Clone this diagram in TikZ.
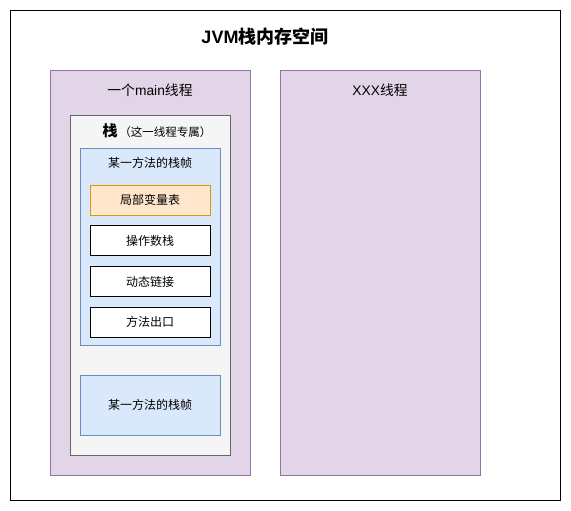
\documentclass[tikz,border=0pt]{standalone}
\usepackage{fontspec}
\setmainfont{Liberation Sans}
\newfontfamily\cjk{Noto Sans CJK SC}
\usepackage{xcolor}
\definecolor{ThreadFill}{HTML}{E1D5E7}
\definecolor{ThreadLine}{HTML}{9673A6}
\definecolor{StackFill}{HTML}{F5F5F5}
\definecolor{StackLine}{HTML}{666666}
\definecolor{FrameFill}{HTML}{DAE8FC}
\definecolor{FrameLine}{HTML}{6C8EBF}
\definecolor{LocalFill}{HTML}{FFE6CC}
\definecolor{LocalLine}{HTML}{D79B00}
\usepackage{tikz}
\usetikzlibrary{positioning}
\tikzset{
  jthread/.style={draw=ThreadLine,fill=ThreadFill,line width=0.8pt,inner sep=0pt,minimum width=200pt,minimum height=405pt},
  jstack/.style={draw=StackLine,fill=StackFill,line width=0.8pt,inner sep=0pt,minimum width=160pt,minimum height=340pt},
  jframe/.style={draw=FrameLine,fill=FrameFill,line width=0.8pt,inner sep=0pt,minimum width=140pt},
  jslot/.style={draw=black,fill=white,line width=0.8pt,inner sep=0pt,minimum width=120pt,minimum height=30pt,font=\fontsize{12pt}{14pt}\selectfont\cjk},
  jlocal/.style={jslot,draw=LocalLine,fill=LocalFill},
  jlabel/.style={inner sep=0pt,font=\fontsize{13.8pt}{16pt}\selectfont}
}

\begin{document}
\begin{tikzpicture}[x=1pt,y=-1pt,node distance=10pt]
  \useasboundingbox[fill=white] (0,0) rectangle (571,511);
  \node[draw=black,line width=0.8pt,minimum width=550pt,minimum height=490pt,inner sep=0pt] (space) at (285,255) {};
  \node[inner sep=0pt,font=\fontsize{18pt}{20pt}\selectfont\bfseries] (title) at (265,37) {JVM{\cjk\bfseries 栈内存空间}};
  % threads
  \node[jthread] (main) at (150,272.5) {};
  \node[jthread] (other) at (380,272.5) {};
  \node[jlabel] (mainlbl) at (150,90) {{\cjk 一个}main{\cjk 线程}};
  \node[jlabel] (otherlbl) at (380,90) {XXX{\cjk 线程}};
  % stack of the main thread
  \node[jstack] (stack) at (150,285) {};
  \node[inner sep=0pt,font=\cjk] (stacklbl) at (157,131) {{\fontsize{15pt}{17pt}\selectfont\bfseries 栈}\,{\fontsize{11.5pt}{13pt}\selectfont （这一线程专属）}};
  % frames
  \node[jframe,minimum height=197pt] (frame) at (150,246.5) {};
  \node[inner sep=0pt,font=\fontsize{12pt}{14pt}\selectfont\cjk] (framelbl) at (150,163) {某一方法的栈帧};
  \node[jlocal] (local) at (150,200) {局部变量表};
  \node[jslot,below=of local] (operand) {操作数栈};
  \node[jslot,below=of operand] (link) {动态链接};
  \node[jslot,below=of link] (exit) {方法出口};
  \node[jframe,minimum height=60pt,font=\fontsize{12pt}{14pt}\selectfont\cjk] (frame2) at (150,405) {某一方法的栈帧};
\end{tikzpicture}
\end{document}
